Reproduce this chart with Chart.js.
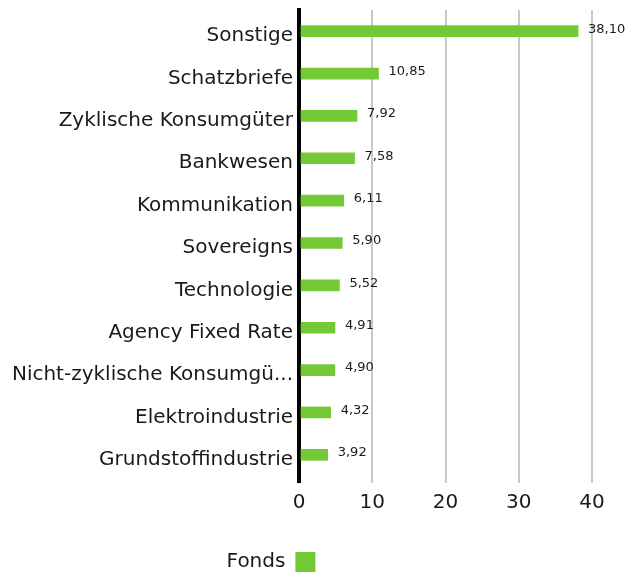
<!DOCTYPE html>
<html>
<head>
<meta charset="utf-8">
<script src="https://cdn.jsdelivr.net/npm/chart.js@4"></script>
<style>
  html, body { margin: 0; padding: 0; background: #fff; }
  #wrap { width: 626px; height: 576px; }
</style>
</head>
<body>
<div id="wrap"><canvas id="sectorChart"></canvas></div>
<script>
// Data
const categories = [
    'Sonstige', 'Schatzbriefe', 'Zyklische Konsumgüter', 'Bankwesen', 'Kommunikation',
    'Sovereigns', 'Technologie', 'Agency Fixed Rate', 'Nicht-zyklische Konsumgü...',
    'Elektroindustrie', 'Grundstoffindustrie'
];
const fondsValues = [38.10, 10.85, 7.92, 7.58, 6.11, 5.90, 5.52, 4.91, 4.90, 4.32, 3.92];
const xTicks = [0, 10, 20, 30, 40];
const seriesName = 'Fonds';

const green = '#74c936';
const fontFamily = '"DejaVu Sans", "Noto Sans", sans-serif';

// value labels at the end of each bar (German decimal comma)
const valueLabels = {
    id: 'valueLabels',
    afterDatasetsDraw(chart) {
        const ctx = chart.ctx;
        const meta = chart.getDatasetMeta(0);
        ctx.save();
        ctx.font = '13px ' + fontFamily;
        ctx.fillStyle = '#1a1a1a';
        ctx.textAlign = 'left';
        ctx.textBaseline = 'middle';
        meta.data.forEach((bar, i) => {
            const txt = fondsValues[i].toFixed(2).replace('.', ',');
            ctx.fillText(txt, bar.x + 10, bar.y - 2);
        });
        ctx.restore();
    }
};

// legend sits a bit left of centre and lower in the original
const legendShift = {
    id: 'legendShift',
    afterLayout(chart) {
        const lg = chart.legend;
        lg.left -= 25;
        lg.right -= 25;
        lg.top += 6;
        lg.bottom += 6;
    }
};

const ctx = document.getElementById('sectorChart').getContext('2d');
new Chart(ctx, {
    type: 'bar',
    data: {
        labels: categories,
        datasets: [{
            label: seriesName,
            data: fondsValues,
            backgroundColor: green,
            borderWidth: 0,
            barThickness: 11
        }]
    },
    options: {
        indexAxis: 'y',
        responsive: true,
        maintainAspectRatio: false,
        animation: false,
        layout: { padding: { top: 10, right: 34, bottom: 0, left: 0 } },
        scales: {
            x: {
                min: 0,
                max: 40,
                afterBuildTicks: (scale) => { scale.ticks = xTicks.map(v => ({ value: v })); },
                afterFit: (scale) => { scale.height = 66; },
                grid: {
                    color: (c) => c.tick && c.tick.value === 0 ? '#000' : '#c8c8c8',
                    lineWidth: (c) => c.tick && c.tick.value === 0 ? 4 : 2,
                    tickLength: 7,
                    drawTicks: true
                },
                border: { display: false },
                ticks: {
                    color: '#1a1a1a',
                    font: { family: fontFamily, size: 20 },
                    padding: 8
                }
            },
            y: {
                afterFit: (scale) => {
                    scale.width = 299;
                    scale.paddingTop = 0;
                    scale.paddingBottom = 0;
                },
                grid: { display: false, drawTicks: false },
                border: { display: true, color: '#000', width: 4 },
                ticks: {
                    color: '#1a1a1a',
                    font: { family: fontFamily, size: 20 },
                    padding: 6,
                    labelOffset: 5
                }
            }
        },
        plugins: {
            legend: {
                display: true,
                position: 'bottom',
                rtl: true,
                labels: {
                    color: '#1a1a1a',
                    font: { family: fontFamily, size: 20 },
                    boxWidth: 20,
                    boxHeight: 20,
                    padding: 4
                }
            },
            tooltip: { enabled: false }
        }
    },
    plugins: [valueLabels, legendShift]
});
</script>
</body>
</html>
